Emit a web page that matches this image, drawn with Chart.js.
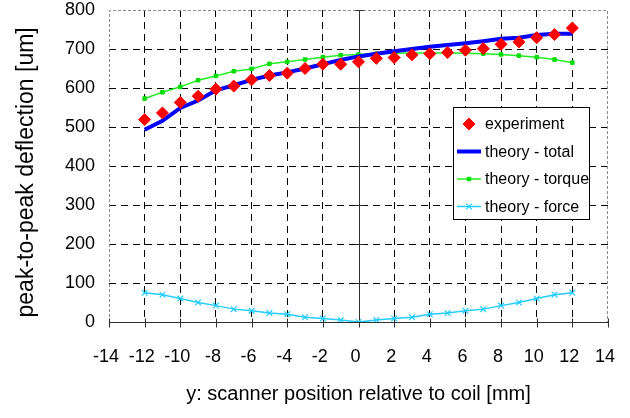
<!DOCTYPE html>
<html>
<head>
<meta charset="utf-8">
<script src="https://cdn.jsdelivr.net/npm/chart.js@4"></script>
<style>
  body { margin: 0; background: #fff; }
  canvas { display: block; }
</style>
</head>
<body>
<canvas id="deflection-chart" width="630" height="418"></canvas>
<script>
// scanner position y [mm]
const positions = [-12, -11, -10, -9, -8, -7, -6, -5, -4, -3, -2, -1, 0, 1, 2, 3, 4, 5, 6, 7, 8, 9, 10, 11, 12];
// peak-to-peak deflection [um]
const experiment = [519, 536, 563, 579, 597, 605, 621, 632, 638, 650, 661, 661, 667, 676, 678, 685, 688, 691, 697, 701, 712, 718, 729, 737, 754];
const theoryTotal = [493, 516, 549, 568, 594, 607, 621, 632, 640, 650, 661, 672, 681, 688, 694, 700, 706, 710, 715, 720, 726, 729, 736, 739, 739];
const theoryTorque = [573, 589, 603, 620, 631, 643, 649, 662, 667, 673, 679, 684, 686, 688, 689, 690, 690, 690, 689, 688, 686, 683, 679, 673, 665];
const theoryForce = [75, 70, 60, 50, 42, 33, 29, 23, 20, 12, 9, 5, 0, 5, 9, 12, 20, 23, 29, 33, 42, 50, 60, 70, 75];

const seriesNames = ['experiment', 'theory - total', 'theory - torque', 'theory - force'];
const xTicks = { min: -14, max: 14, step: 2 };
const yTicks = { min: 0, max: 800, step: 100 };

const FONT = 'Liberation Sans, Arial, sans-serif';

function pts(ys) {
    return positions.map((x, i) => ({ x: x, y: ys[i] }));
}

// plot border, axes through zero and their tick marks
const axesPlugin = {
    id: 'axesAtZero',
    beforeDatasetsDraw(chart) {
        const { ctx, chartArea: a, scales: { x, y } } = chart;
        ctx.save();
        ctx.strokeStyle = '#8a8a8a';
        ctx.lineWidth = 1;
        ctx.setLineDash([3, 2]);
        ctx.beginPath();
        ctx.moveTo(a.left + 0.5, a.bottom);
        ctx.lineTo(a.left + 0.5, a.top + 0.5);
        ctx.lineTo(a.right - 0.5, a.top + 0.5);
        ctx.lineTo(a.right - 0.5, a.bottom);
        ctx.stroke();

        ctx.setLineDash([]);
        ctx.strokeStyle = '#303030';
        const x0 = Math.round(x.getPixelForValue(0)) + 0.5;
        const y0 = Math.round(y.getPixelForValue(0)) + 0.5;
        ctx.beginPath();
        ctx.moveTo(x0, a.top);
        ctx.lineTo(x0, a.bottom);
        ctx.moveTo(a.left, y0);
        ctx.lineTo(a.right, y0);
        for (let v = yTicks.min; v <= yTicks.max; v += yTicks.step) {
            const py = Math.round(y.getPixelForValue(v)) + 0.5;
            ctx.moveTo(x0 - 4, py);
            ctx.lineTo(x0 + 4, py);
        }
        for (let v = xTicks.min; v <= xTicks.max; v += xTicks.step) {
            const px = Math.round(x.getPixelForValue(v)) + 0.5;
            ctx.moveTo(px, y0 - 4);
            ctx.lineTo(px, y0 + 5);
        }
        ctx.stroke();
        ctx.restore();
    }
};

// legend box inside the plot area
const legendPlugin = {
    id: 'innerLegend',
    afterDraw(chart) {
        const { ctx, chartArea: a } = chart;
        const w = 136, h = 112;
        const left = a.right - 19 - w;
        const top = a.top + 97;
        ctx.save();
        ctx.fillStyle = '#fff';
        ctx.fillRect(left, top, w, h);
        ctx.strokeStyle = '#000';
        ctx.lineWidth = 1;
        ctx.strokeRect(left + 0.5, top + 0.5, w, h);

        ctx.font = '16px ' + FONT;
        ctx.textBaseline = 'middle';
        ctx.textAlign = 'left';
        chart.data.datasets.forEach((ds, i) => {
            const cy = top + 17 + i * 27.5;
            const cx = left + 16;
            if (ds.showLine !== false) {
                ctx.strokeStyle = ds.borderColor;
                ctx.lineWidth = ds.borderWidth;
                ctx.beginPath();
                ctx.moveTo(left + 4, cy);
                ctx.lineTo(left + 28, cy);
                ctx.stroke();
            }
            if (ds.pointRadius > 0) {
                ctx.fillStyle = ds.pointBackgroundColor;
                ctx.strokeStyle = ds.pointBorderColor;
                ctx.lineWidth = ds.pointBorderWidth || 1;
                Chart.helpers.drawPoint(ctx, {
                    pointStyle: ds.pointStyle,
                    radius: ds.pointRadius,
                    borderWidth: ds.pointBorderWidth || 1,
                    rotation: 0
                }, cx, cy);
            }
            ctx.fillStyle = '#000';
            ctx.fillText(ds.label, left + 32, cy + 1);
        });
        ctx.restore();
    }
};

function gridColor(min, max) {
    return ctx => {
        const v = ctx.tick ? ctx.tick.value : null;
        return (v === min || v === max || v === 0) ? 'rgba(0,0,0,0)' : '#000';
    };
}

new Chart(document.getElementById('deflection-chart'), {
    type: 'scatter',
    data: {
        datasets: [
            {
                label: seriesNames[0],
                data: pts(experiment),
                showLine: false,
                pointStyle: 'rectRot',
                pointRadius: 6,
                pointBackgroundColor: '#ff0000',
                pointBorderColor: '#ff0000',
                pointBorderWidth: 1,
                borderColor: '#ff0000'
            },
            {
                label: seriesNames[1],
                data: pts(theoryTotal),
                showLine: true,
                borderColor: '#0000ff',
                borderWidth: 4,
                pointRadius: 0,
                tension: 0
            },
            {
                label: seriesNames[2],
                data: pts(theoryTorque),
                showLine: true,
                borderColor: '#22ee22',
                borderWidth: 1.5,
                pointStyle: 'rect',
                pointRadius: 2.5,
                pointBackgroundColor: '#00dd00',
                pointBorderColor: '#00dd00',
                pointBorderWidth: 1,
                tension: 0
            },
            {
                label: seriesNames[3],
                data: pts(theoryForce),
                showLine: true,
                borderColor: '#22ccff',
                borderWidth: 1.5,
                pointStyle: 'crossRot',
                pointRadius: 4,
                pointBackgroundColor: '#22ccff',
                pointBorderColor: '#22ccff',
                pointBorderWidth: 1.2,
                tension: 0
            }
        ]
    },
    options: {
        responsive: false,
        animation: false,
        devicePixelRatio: 1,
        layout: { padding: { top: 10, right: 22, bottom: 0, left: 0 } },
        plugins: {
            legend: { display: false },
            tooltip: { enabled: false }
        },
        scales: {
            x: {
                type: 'linear',
                min: xTicks.min,
                max: xTicks.max,
                afterFit: s => { s.height = 96; s.paddingLeft = 0; s.paddingRight = 0; },
                ticks: {
                    stepSize: xTicks.step,
                    color: '#000',
                    font: { family: FONT, size: 18 },
                    padding: 24,
                    labelOffset: -3,
                    maxRotation: 0
                },
                grid: { color: gridColor(xTicks.min, xTicks.max), drawTicks: false, lineWidth: 1 },
                border: { display: false, dash: [7, 5] },
                title: {
                    display: true,
                    text: 'y: scanner position relative to coil [mm]',
                    color: '#000',
                    font: { family: FONT, size: 20 },
                    padding: { top: 0, bottom: 12 }
                }
            },
            y: {
                type: 'linear',
                min: yTicks.min,
                max: yTicks.max,
                afterFit: s => { s.width = 109; s.paddingTop = 0; s.paddingBottom = 0; },
                ticks: {
                    stepSize: yTicks.step,
                    color: '#000',
                    font: { family: FONT, size: 18, lineHeight: 1 },
                    padding: 14
                },
                grid: { color: gridColor(yTicks.min, yTicks.max), drawTicks: false, lineWidth: 1 },
                border: { display: false, dash: [7, 5] },
                title: {
                    display: true,
                    text: 'peak-to-peak deflection [um]  ',
                    color: '#000',
                    font: { family: FONT, size: 23 },
                    padding: { top: 13, bottom: 0 }
                }
            }
        }
    },
    plugins: [axesPlugin, legendPlugin]
});
</script>
</body>
</html>
